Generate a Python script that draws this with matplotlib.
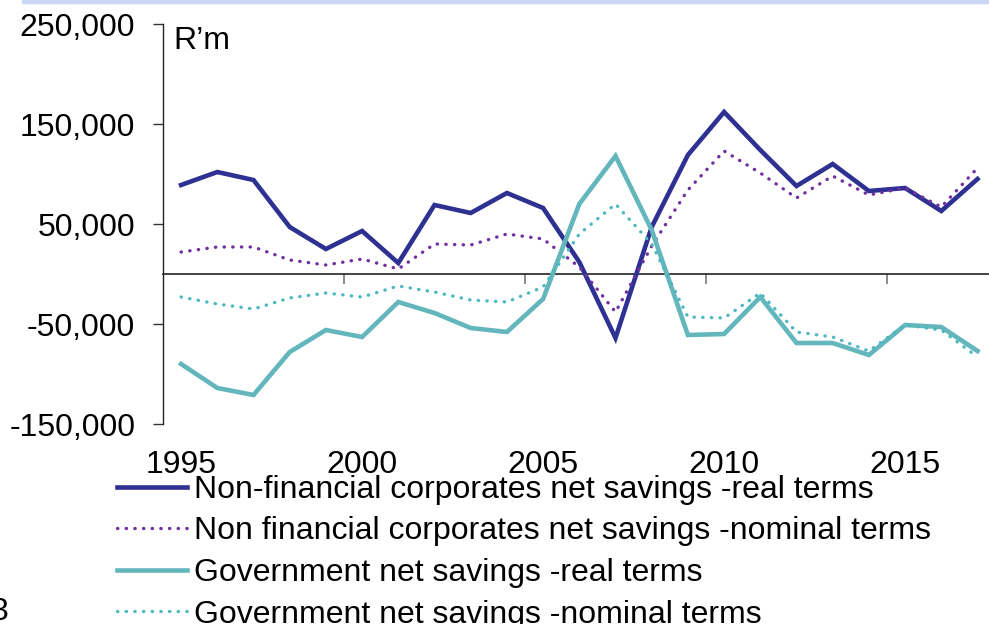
import numpy as np
import matplotlib
matplotlib.use("Agg")
import matplotlib.pyplot as plt
from matplotlib.patches import Rectangle

plt.rcParams['font.family'] = ['Liberation Sans', 'DejaVu Sans']

years = np.arange(1995, 2018)
shown_years = [1995, 2000, 2005, 2010, 2015]

# R'm
nfc_real = [89000, 102000, 94000, 47000, 25000, 43000, 11000, 69000, 61000, 81000,
            66000, 12000, -64000, 47000, 119000, 162000, 124000, 88000, 110000, 83000,
            86000, 63000, 95000]
nfc_nominal = [22000, 27000, 27000, 14000, 9000, 15000, 5000, 30000, 29000, 40000,
               35000, 7000, -38000, 28000, 84000, 123000, 101000, 76000, 98000, 79000,
               86000, 67000, 106000]
gov_real = [-90000, -114000, -121000, -78000, -56000, -63000, -28000, -39000, -54000, -58000,
            -25000, 70000, 118000, 44000, -61000, -60000, -23000, -69000, -69000, -81000,
            -51000, -53000, -77000]
gov_nominal = [-23000, -30000, -35000, -24000, -19000, -23000, -12000, -18000, -26000, -28000,
               -13000, 40000, 70000, 30000, -43000, -44000, -19000, -58000, -63000, -77000,
               -51000, -56000, -83000]

labels = ["Non-financial corporates net savings -real terms",
          "Non financial corporates net savings -nominal terms",
          "Government net savings -real terms",
          "Government net savings -nominal terms"]

navy = "#2E3192"
purple = "#7030A0"
teal = "#62B6BC"
teal_dot = "#4DB8C0"
fs = 23

W, H = 989, 624
fig = plt.figure(figsize=(W / 100, H / 100), dpi=100)
ax = fig.add_axes([163 / W, 1 - 424 / H, 826 / W, 400 / H])

x = np.arange(len(years))
dots = (0, (0.1, 2.5))
l1, = ax.plot(x, nfc_real, color=navy, lw=3.3, solid_joinstyle='miter')
l2, = ax.plot(x, nfc_nominal, color=purple, lw=2.4, linestyle=dots, dash_capstyle='round')
l3, = ax.plot(x, gov_real, color=teal, lw=3.3, solid_joinstyle='miter')
l4, = ax.plot(x, gov_nominal, color=teal_dot, lw=2.4, linestyle=dots, dash_capstyle='round')

ax.set_xlim(-0.5, -0.5 + 826 / 36.2)
ax.set_ylim(-150000, 250000)
ax.set_yticks([-150000, -50000, 50000, 150000, 250000])
ax.yaxis.set_major_formatter(matplotlib.ticker.FuncFormatter(lambda v, p: f"{int(v):,}"))
ax.tick_params(axis='y', labelsize=fs, length=7, width=1, pad=13, color='#333333')

for s in ['top', 'right', 'bottom']:
    ax.spines[s].set_visible(False)
ax.spines['left'].set_color('#222222')
ax.spines['left'].set_linewidth(1)

# year labels at the bottom, centred on categories
ax.set_xticks([list(years).index(y) for y in shown_years])
ax.set_xticklabels([str(y) for y in shown_years])
ax.tick_params(axis='x', length=0, labelsize=fs, pad=19)

# zero line with category boundary ticks
sec = ax.secondary_xaxis(0.375)
sec.set_xticks([4.5, 9.5, 14.5, 19.5])
sec.set_xticklabels([])
sec.tick_params(axis='x', length=7, width=1.2, color='#777777')
sec.spines['bottom'].set_color('#222222')
sec.spines['bottom'].set_linewidth(1.2)

fig.text(173 / W, 1 - 49 / H, "R\u2019m", fontsize=fs, va='baseline', ha='left')
fig.text(9 / W, 1 - 620 / H, "3", fontsize=fs, va='baseline', ha='right')

fig.patches.append(Rectangle((22 / W, 1 - 3 / H), 1, 3 / H, transform=fig.transFigure,
                             color='#C9D7F5', zorder=0))

fig.legend([l1, l2, l3, l4], labels, loc='upper left', bbox_to_anchor=(117 / W, 1 - 475 / H),
           frameon=False, fontsize=fs, handlelength=2.2, handletextpad=0.22,
           labelspacing=0.36, borderpad=0, borderaxespad=0)

fig.savefig("out.png", dpi=100)
